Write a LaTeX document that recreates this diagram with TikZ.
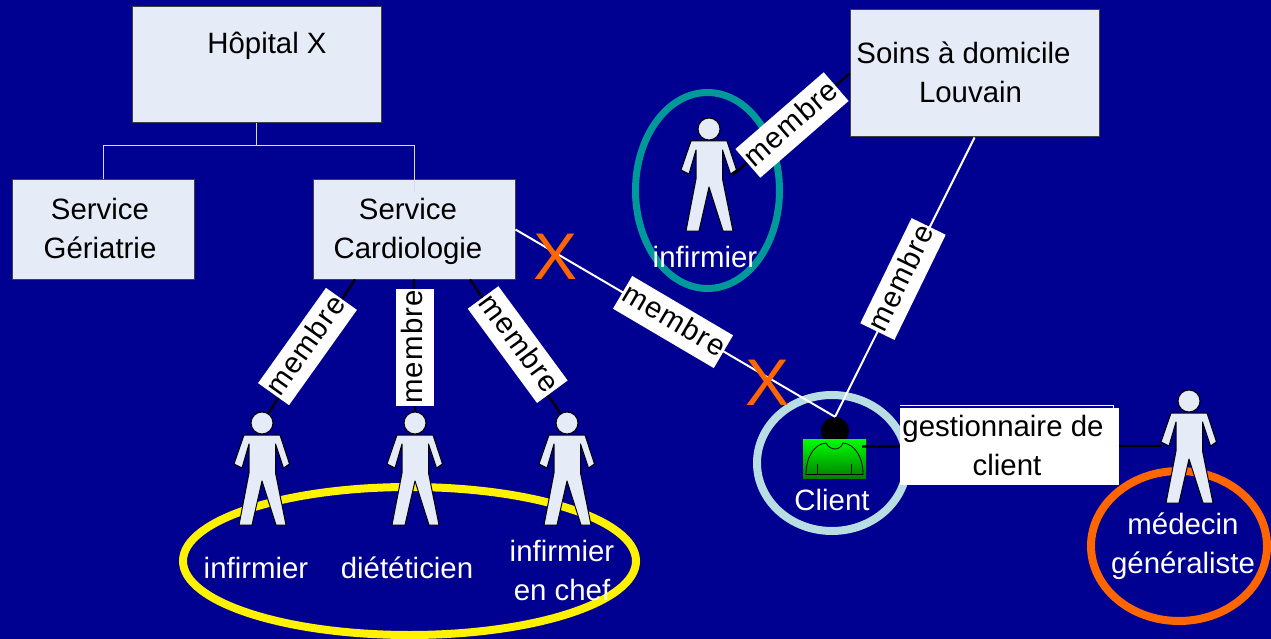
\documentclass[tikz,border=0pt]{standalone}
\usepackage{fontspec}
\setmainfont{Liberation Sans}
\usepackage{tikz}
\usetikzlibrary{
  shapes.geometric}
\definecolor{slidebg}{HTML}{000091}
\definecolor{boxfill}{HTML}{E6ECF7}
\definecolor{ringteal}{HTML}{009999}
\definecolor{ringpale}{HTML}{B8DDE3}
\definecolor{ringorange}{HTML}{FF6600}
\tikzset{
  txt/.style={font=\fontsize{29.4}{39}\selectfont, align=center, inner sep=0pt},
  unitbox/.style={draw=gray!50!black, fill=boxfill, line width=1pt, rectangle, inner sep=0pt},
  tag/.style={txt, fill=white, minimum width=117pt, minimum height=38pt, text depth=6pt,
    font=\fontsize{29.4}{39}\selectfont\addfontfeature{LetterSpace=4}},
  caption/.style={txt, text=white},
  cross/.style={inner sep=0pt, text=ringorange, font=\fontsize{66}{66}\selectfont},
  ring/.style={ellipse, draw=#1, line width=8pt, inner sep=0pt},
  orgline/.style={draw=white!85!blue, line width=1pt},
  whiteline/.style={draw=white, line width=2pt},
  blackline/.style={draw=black, line width=2.2pt},
  person/.pic={
    \draw[fill=boxfill, line width=1pt, line join=round]
      (-18,12) -- (18,12) -- (27.5,41) -- (21.5,45) -- (13.5,21) -- (13.5,50) -- (24,102)
      -- (14,102) -- (0,58) -- (-10,102) -- (-23,102) -- (-13,50) -- (-13,21)
      -- (-20,45) -- (-28,41) -- cycle;
    \node[circle, draw, fill=boxfill, line width=1pt, minimum size=22pt, inner sep=0pt] (-head) at (0,0) {};
    \coordinate (-rhand) at (24,46);
    \coordinate (-lhand) at (-27,45);
  }
}

\begin{document}
\begin{tikzpicture}[x=1pt, y=-1pt]
\useasboundingbox[fill=slidebg] (0,0) rectangle (1271,639);

% rings
\node[ring=yellow, minimum width=453pt, minimum height=148pt] (ringteam) at (409.5,561) {};
\node[ring=ringteal, line width=7pt, minimum width=144pt, minimum height=196pt] (ringnurse) at (707.5,190.5) {};
\node[ring=ringpale, minimum width=150pt, minimum height=136pt] (ringclient) at (832,463) {};
\node[ring=ringorange, minimum width=176pt, minimum height=150pt] (ringdoc) at (1179,546) {};

% units
\node[unitbox, minimum width=249pt, minimum height=116pt] (hopital) at (256.5,65) {};
\node[txt] (hopitaltxt) at (267,46) {Hôpital X};
\node[unitbox, minimum width=182pt, minimum height=99pt] (geriatrie) at (103,229.5) {};
\node[txt] (geriatrietxt) at (100,228.5) {Service\hspace{6pt}\\Gériatrie};
\node[unitbox, minimum width=202pt, minimum height=99pt] (cardio) at (414,229.5) {};
\node[txt] (cardiotxt) at (408,231.5) {Service\\Cardiologie};
\node[unitbox, minimum width=249pt, minimum height=127pt] (soins) at (974.5,73.5) {};
\node[txt] (soinstxt) at (963.5,72) {Soins à domicile\\\hspace*{14pt}Louvain};

% people
\pic (nurseA) at (262,423) {person};
\pic (diet) at (415,423) {person};
\pic (chief) at (567,423) {person};
\pic (nurseB) at (709,129) {person};
\pic (doc) at (1189,401) {person};

% client
\node[circle, fill=black, minimum size=28pt, inner sep=0pt] (clienthead) at (835,431) {};
\node[rectangle, inner sep=0pt, minimum width=63pt, minimum height=39pt, top color=green, bottom color=green!50!black] (clientbody) at (834.5,458.5) {};
\draw[line width=.8pt] (806,474.5) .. controls (806,456) and (815,444) .. (826,443)
  .. controls (830,451) and (840,451) .. (843,443)
  .. controls (854,444) and (863,456) .. (863,474.5) -- cycle;
\draw[line width=.8pt] (817,464) -- (817,474.5) (851,464) -- (851,474.5);

% connectors
\draw[orgline] (hopital.south) -- ++(0,22) coordinate (fork);
\draw[orgline] (geriatrie.north) |- (fork) -| ([yshift=-13pt]cardio.north);
\draw[blackline] ([xshift=-59pt]cardio.south) -- (nurseA-head);
\draw[blackline] (cardio.south) -- (diet-head);
\draw[blackline] ([xshift=56pt]cardio.south) -- (chief-head);
\draw[blackline] (soins.west) -- (nurseB-rhand);
\draw[whiteline] (cardio.east) -- (clienthead.north);
\draw[whiteline] (soins.south) -- (clienthead.north);
\draw[blackline] ([xshift=-4pt,yshift=12pt]clientbody.east) -- (doc-lhand);

% labels on links
\node[tag, rotate=54.5] (linkA) at (307.5,346.5) {membre};
\node[tag, rotate=90] (linkB) at (414.5,347) {membre};
\node[tag, rotate=-53.7] (linkC) at (517.7,344.6) {membre};
\node[tag, rotate=-30.5] (linkD) at (673,322) {membre};
\node[tag, rotate=64] (linkE) at (903,279) {membre};
\node[tag, rotate=41] (linkF) at (792,125) {membre};
\draw[draw=white, line width=1pt] (900,405) -- (1113,405) -- (1113,409);
\node[txt, fill=white, minimum width=219pt, minimum height=77pt] (gest) at (1009.5,446.5) {};
\node[txt] (gesttxt) at (1003,445.5) {gestionnaire de\\\hspace*{8pt}client};

% captions
\node[caption] (capA) at (256,568) {infirmier};
\node[caption] (capB) at (407,568) {diététicien};
\node[caption] (capC) at (562,570) {infirmier\\en chef};
\node[caption] (capD) at (705,257) {infirmier};
\node[caption] (capE) at (832,500) {Client};
\node[caption] (capF) at (1183,546) {médecin\\généraliste};

% crosses
\node[cross] (crossA) at (556,257) {X};
\node[cross] (crossB) at (768,383) {X};
\end{tikzpicture}
\end{document}
